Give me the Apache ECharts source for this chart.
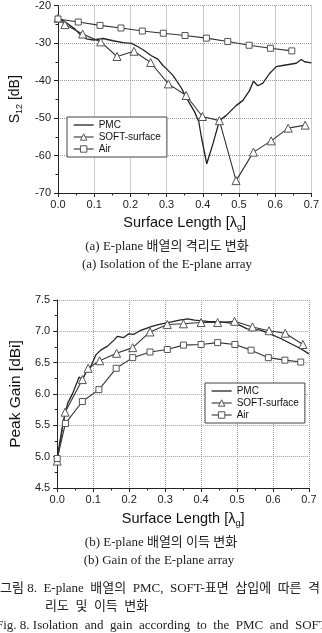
<!DOCTYPE html>
<html>
<head>
<meta charset="utf-8">
<script src="https://cdn.jsdelivr.net/npm/echarts@6/dist/echarts.min.js"></script>
<style>
  html, body { margin: 0; padding: 0; background: #fff; }
  #chart { width: 322px; height: 633px; }
</style>
</head>
<body>
<div id="chart"></div>
<script>
// (a) isolation S12 [dB]
var isoPmcX = [0, 0.024, 0.047, 0.06, 0.079, 0.097, 0.125, 0.152, 0.18, 0.203, 0.221, 0.235, 0.258, 0.276, 0.29, 0.3, 0.318, 0.341, 0.354, 0.377, 0.389, 0.396, 0.411, 0.428, 0.446, 0.465, 0.492, 0.511, 0.529, 0.54, 0.552, 0.566, 0.584, 0.603, 0.621, 0.658, 0.672, 0.681, 0.7];
var isoPmcY = [-23.2, -24.7, -26.3, -27.6, -28.9, -29.2, -28.8, -29.4, -29.9, -30.1, -31.0, -31.8, -33.4, -34.3, -36.0, -36.9, -38.7, -42.0, -44.5, -48.3, -51.0, -55.0, -62.2, -56.9, -50.7, -49.3, -46.7, -45.3, -42.7, -40.2, -41.4, -40.7, -38.2, -36.3, -36.0, -35.4, -34.4, -35.0, -35.3];
var isoSoftX = [0, 0.019, 0.068, 0.118, 0.163, 0.21, 0.256, 0.305, 0.354, 0.399, 0.446, 0.492, 0.54, 0.589, 0.636, 0.683];
var isoSoftY = [-23.4, -25.1, -27.6, -29.7, -33.6, -32.2, -35.2, -40.9, -44.0, -49.6, -50.7, -66.7, -59.1, -56.1, -52.7, -51.9];
var isoAirX = [0, 0.056, 0.116, 0.174, 0.233, 0.291, 0.351, 0.41, 0.469, 0.528, 0.587, 0.646];
var isoAirY = [-23.6, -24.4, -25.3, -26.0, -26.8, -27.4, -28.0, -28.7, -29.6, -30.6, -31.4, -32.1];

// (b) peak gain [dBi]
var gainPmcX = [0, 0.016, 0.029, 0.043, 0.061, 0.07, 0.08, 0.093, 0.107, 0.121, 0.139, 0.158, 0.167, 0.185, 0.199, 0.212, 0.23, 0.244, 0.263, 0.29, 0.318, 0.34, 0.363, 0.382, 0.418, 0.455, 0.5, 0.528, 0.565, 0.592, 0.62, 0.647, 0.675, 0.7];
var gainPmcY = [4.98, 5.53, 5.85, 6.01, 6.27, 6.22, 6.35, 6.43, 6.62, 6.70, 6.76, 6.86, 6.92, 6.90, 6.96, 6.95, 7.01, 7.04, 7.08, 7.12, 7.15, 7.18, 7.20, 7.18, 7.16, 7.15, 7.12, 7.04, 7.02, 6.96, 6.89, 6.81, 6.73, 6.64];
var gainSoftX = [0, 0.022, 0.07, 0.086, 0.118, 0.165, 0.21, 0.258, 0.306, 0.351, 0.4, 0.446, 0.493, 0.543, 0.589, 0.634, 0.683];
var gainSoftY = [4.93, 5.71, 6.23, 6.41, 6.53, 6.65, 6.74, 6.99, 7.11, 7.12, 7.14, 7.14, 7.16, 7.07, 7.01, 6.97, 6.79];
var gainAirX = [0, 0.023, 0.07, 0.116, 0.164, 0.21, 0.258, 0.306, 0.351, 0.4, 0.446, 0.494, 0.539, 0.587, 0.633, 0.677];
var gainAirY = [4.97, 5.53, 5.88, 6.07, 6.41, 6.58, 6.67, 6.71, 6.78, 6.79, 6.82, 6.79, 6.70, 6.58, 6.54, 6.51];

var seriesNames = ["PMC", "SOFT-surface", "Air"];

function pairs(xs, ys) {
  return xs.map(function (x, i) { return [x, ys[i]]; });
}

var sansFont = '"Liberation Sans", Arial, sans-serif';
var capFont = '"Liberation Serif", "Noto Sans CJK KR", serif';

function makeXAxis(gridIndex, gap) {
  return {
    type: "value",
    gridIndex: gridIndex,
    min: 0,
    max: 0.7,
    interval: 0.1,
    name: "{a|Surface Length [λ}{s|g}{a|]}",
    nameLocation: "middle",
    nameGap: gap,
    nameTextStyle: {
      rich: {
        a: { fontSize: 14.5, fontFamily: sansFont, color: "#111", lineHeight: 18 },
        s: { fontSize: 9, fontFamily: sansFont, color: "#111", verticalAlign: "bottom" }
      }
    },
    axisLine: { show: true, lineStyle: { color: "#222", width: 1 } },
    axisTick: { show: true, length: 4, lineStyle: { color: "#222" } },
    minorTick: { show: true, splitNumber: 2, length: 2.5, lineStyle: { color: "#222" } },
    axisLabel: {
      fontSize: 11, fontFamily: sansFont, color: "#222", margin: 6,
      formatter: function (v) { return v.toFixed(1); }
    },
    splitLine: { show: true, lineStyle: { color: "#9a9a9a", type: "dotted", width: 1 } }
  };
}

function lineSeries(name, xi, yi, data) {
  var s = {
    name: name,
    type: "line",
    xAxisIndex: xi,
    yAxisIndex: yi,
    data: data,
    animation: false,
    lineStyle: { color: "#333", width: 1.1 },
    itemStyle: { color: "#fff", borderColor: "#555", borderWidth: 1 },
    showAllSymbol: true
  };
  if (name === "PMC") {
    s.symbol = "none";
    s.lineStyle.width = 1.3;
    s.lineStyle.color = "#222";
    s.itemStyle = { color: "#222" };
  } else if (name === "SOFT-surface") {
    s.symbol = "triangle";
    s.symbolSize = 8;
  } else {
    s.symbol = "rect";
    s.symbolSize = 6;
  }
  return s;
}

function legendAt(left, top) {
  var openMark = { color: "#fff", borderColor: "#555", borderWidth: 1 };
  return {
    data: [
      { name: "PMC", itemStyle: { opacity: 0 }, lineStyle: { color: "#222", width: 1.3 } },
      { name: "SOFT-surface", itemStyle: openMark, lineStyle: { color: "#333", width: 1.1 } },
      { name: "Air", itemStyle: openMark, lineStyle: { color: "#333", width: 1.1 } }
    ],
    left: left,
    top: top,
    orient: "vertical",
    backgroundColor: "#fff",
    borderColor: "#444",
    borderWidth: 1,
    borderRadius: 0,
    padding: [3, 6, 3, 6],
    itemGap: 2,
    itemWidth: 20,
    itemHeight: 8,
    selectedMode: false,
    textStyle: { fontSize: 10, lineHeight: 10, fontFamily: sansFont, color: "#111" }
  };
}

var myChart = echarts.init(document.getElementById("chart"));

function caption(x, y, text, align) {
  return {
    type: "text", x: x, y: y,
    style: { text: text, font: "13px " + capFont, textAlign: align || "center", textVerticalAlign: "middle", fill: "#222" }
  };
}

var option = {
  backgroundColor: "#fff",
  animation: false,
  grid: [
    { left: 58, right: 10, top: 5, height: 188 },
    { left: 54, right: 13, top: 300, height: 188 }
  ],
  legend: [legendAt(67, 117), legendAt(205, 383)],
  xAxis: [makeXAxis(0, 21), makeXAxis(1, 22)],
  yAxis: [
    {
      type: "value",
      gridIndex: 0,
      min: -70,
      max: -20,
      interval: 10,
      name: "{a|S}{s|12}{a| [dB]}",
      nameLocation: "middle",
      nameGap: 30,
      nameTextStyle: {
        rich: {
          a: { fontSize: 14, fontFamily: sansFont, color: "#111", lineHeight: 18 },
          s: { fontSize: 9, fontFamily: sansFont, color: "#111", verticalAlign: "bottom" }
        }
      },
      axisLine: { show: true, lineStyle: { color: "#222", width: 1 } },
      axisTick: { show: true, length: 4, lineStyle: { color: "#222" } },
      minorTick: { show: true, splitNumber: 2, length: 2.5, lineStyle: { color: "#222" } },
      axisLabel: { fontSize: 11, fontFamily: sansFont, color: "#222", margin: 7 },
      splitLine: { show: true, lineStyle: { color: "#9a9a9a", type: "dotted", width: 1 } }
    },
    {
      type: "value",
      gridIndex: 1,
      min: 4.5,
      max: 7.5,
      interval: 0.5,
      name: "Peak Gain [dBi]",
      nameLocation: "middle",
      nameGap: 30,
      nameTextStyle: { fontSize: 15.5, fontFamily: sansFont, color: "#111" },
      axisLine: { show: true, lineStyle: { color: "#222", width: 1 } },
      axisTick: { show: true, length: 4, lineStyle: { color: "#222" } },
      minorTick: { show: true, splitNumber: 2, length: 2.5, lineStyle: { color: "#222" } },
      axisLabel: {
        fontSize: 11, fontFamily: sansFont, color: "#222", margin: 7,
        formatter: function (v) { return v.toFixed(1); }
      },
      splitLine: { show: true, lineStyle: { color: "#9a9a9a", type: "dotted", width: 1 } }
    }
  ],
  series: [
    lineSeries("PMC", 0, 0, pairs(isoPmcX, isoPmcY)),
    lineSeries("SOFT-surface", 0, 0, pairs(isoSoftX, isoSoftY)),
    lineSeries("Air", 0, 0, pairs(isoAirX, isoAirY)),
    lineSeries("PMC", 1, 1, pairs(gainPmcX, gainPmcY)),
    lineSeries("SOFT-surface", 1, 1, pairs(gainSoftX, gainSoftY)),
    lineSeries("Air", 1, 1, pairs(gainAirX, gainAirY))
  ],
  graphic: [
    caption(167, 247, "(a) E-plane 배열의 격리도 변화"),
    caption(167, 265, "(a) Isolation of the E-plane array"),
    caption(161, 543, "(b) E-plane 배열의 이득 변화"),
    caption(159, 561, "(b) Gain of the E-plane array"),
    caption(0, 589, "그림 8.  E-plane  배열의  PMC,  SOFT-표면  삽입에  따른  격", "left"),
    caption(45, 607, "리도  및  이득  변화", "left"),
    caption(-4, 626, "Fig. 8. Isolation  and  gain  according  to  the  PMC  and  SOFT-surface", "left")
  ]
};

myChart.setOption(option);
</script>
</body>
</html>
